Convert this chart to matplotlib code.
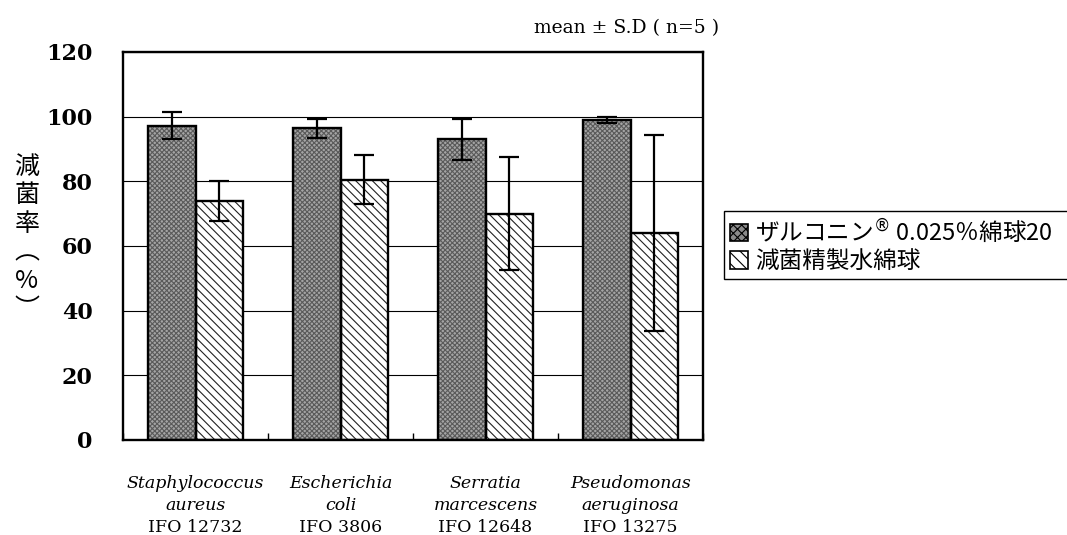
import matplotlib
matplotlib.use("Agg")
import matplotlib.pyplot as plt
from matplotlib.patches import Patch
from matplotlib.transforms import blended_transform_factory
import numpy as np

genus = ["Staphylococcus", "Escherichia", "Serratia", "Pseudomonas"]
species = ["aureus", "coli", "marcescens", "aeruginosa"]
strain = ["IFO 12732", "IFO 3806", "IFO 12648", "IFO 13275"]

zal_mean = [97.2, 96.4, 93.0, 99.0]
zal_sd = [4.2, 3.0, 6.3, 1.0]
water_mean = [74.0, 80.5, 70.0, 64.0]
water_sd = [6.2, 7.5, 17.5, 30.4]

series_labels = ["ザルコニン$^{®}$ 0.025％綿球20", "減菌精製水綿球"]
y_ticks = [0, 20, 40, 60, 80, 100, 120]
note = "mean ± S.D ( n=5 )"
ylabel_chars = ["減", "菌", "率", "︵", "%", "︶"]

plt.rcParams['hatch.linewidth'] = 0.8

fig = plt.figure(figsize=(10.67, 5.35), dpi=100)
ax = fig.add_axes([123/1067, 95/535, 580/1067, 388/535])

x = np.arange(len(genus))
w = 0.33

# gray dotted bars
ax.bar(x - w/2, zal_mean, w, color='#a4a4a4', hatch='xxxxxxx', edgecolor='#5a5a5a', linewidth=0, zorder=2)
ax.bar(x - w/2, zal_mean, w, fill=False, edgecolor='black', linewidth=1.7, zorder=3)
# hatched bars
ax.bar(x + w/2, water_mean, w, color='white', hatch='\\\\\\\\', edgecolor='#222222', linewidth=0, zorder=2)
ax.bar(x + w/2, water_mean, w, fill=False, edgecolor='black', linewidth=1.7, zorder=3)

ax.errorbar(x - w/2, zal_mean, yerr=zal_sd, fmt='none', ecolor='black', elinewidth=1.6, capsize=7, capthick=1.6, zorder=4)
ax.errorbar(x + w/2, water_mean, yerr=water_sd, fmt='none', ecolor='black', elinewidth=1.6, capsize=7, capthick=1.6, zorder=4)

ax.set_xlim(-0.5, len(genus) - 0.5)
ax.set_ylim(0, 120)
ax.set_yticks(y_ticks)
ax.set_yticklabels([str(t) for t in y_ticks], fontfamily='DejaVu Serif', fontsize=16, fontweight='bold')
ax.yaxis.grid(True, color='black', linewidth=0.8, zorder=1)
ax.set_axisbelow(True)
ax.tick_params(axis='y', direction='in', length=0, pad=22)
ax.set_xticks(np.arange(len(genus) + 1) - 0.5)
ax.set_xticklabels([])
ax.tick_params(axis='x', direction='in', length=5, width=1)
for s in ax.spines.values():
    s.set_linewidth(1.7)

trans = blended_transform_factory(ax.transData, ax.transAxes)
for i in range(len(genus)):
    ax.text(x[i], -0.124, genus[i], transform=trans, ha='center', va='baseline',
            fontfamily='DejaVu Serif', fontstyle='italic', fontsize=12.5)
    ax.text(x[i], -0.180, species[i], transform=trans, ha='center', va='baseline',
            fontfamily='DejaVu Serif', fontstyle='italic', fontsize=12.5)
    ax.text(x[i], -0.236, strain[i], transform=trans, ha='center', va='baseline',
            fontfamily='DejaVu Serif', fontsize=12.5)

fig.text(627/1067, 1 - 33/535, note, ha='center', va='baseline', fontfamily='DejaVu Serif', fontsize=13.5)

fig.text(27/1067, 1 - 238/535, "\n".join(ylabel_chars), ha='center', va='center',
         fontfamily=['Noto Sans CJK JP', 'DejaVu Sans'], fontsize=18, linespacing=1.12)

handles = [Patch(facecolor='#8a8a8a', edgecolor='black', hatch='xxxx', linewidth=1.2),
           Patch(facecolor='white', edgecolor='black', hatch='\\\\\\', linewidth=1.2)]
leg = fig.legend(handles, series_labels, loc='upper left',
                 bbox_to_anchor=(724/1067, 1 - 211/535, 360/1067, 0.0), mode='expand',
                 prop={'family': ['Noto Sans CJK JP', 'DejaVu Sans'], 'size': 17},
                 frameon=True, fancybox=False, edgecolor='black', framealpha=1,
                 handlelength=0.75, handleheight=0.75, handletextpad=0.3, borderpad=0.25,
                 labelspacing=0.2, borderaxespad=0)
leg.get_frame().set_linewidth(1.0)

fig.savefig("out.png", dpi=100)
